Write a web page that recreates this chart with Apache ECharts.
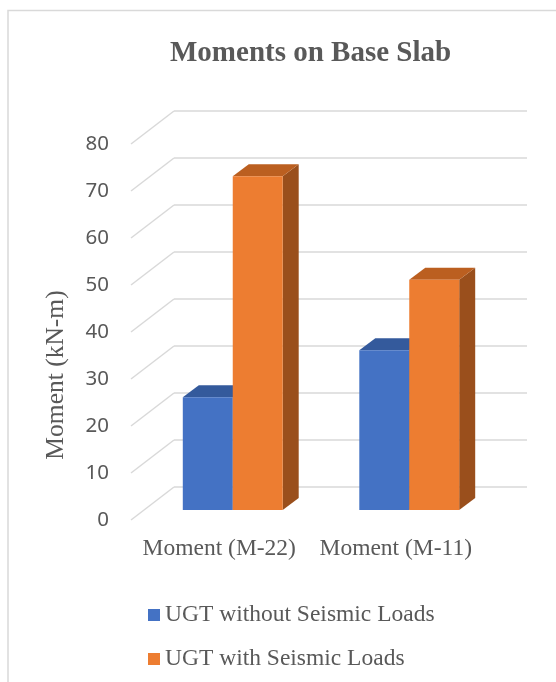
<!DOCTYPE html>
<html>
<head>
<meta charset="utf-8">
<script src="https://cdn.jsdelivr.net/npm/echarts@6/dist/echarts.min.js"></script>
<style>
html, body { margin: 0; padding: 0; background: #fff; }
#main { width: 556px; height: 682px; }
</style>
</head>
<body>
<div id="main"></div>
<script>
// data
var categories = ['Moment (M-22)', 'Moment (M-11)'];
var seriesNames = ['UGT without Seismic Loads', 'UGT with Seismic Loads'];
var withoutSeismic = [24, 34];
var withSeismic = [71, 49];
var yTicks = [0, 10, 20, 30, 40, 50, 60, 70, 80];

// 3d look
var wallDx = 43, wallDy = -33;   // front floor edge -> back wall
var barDx = 16, barDy = -12;     // bar depth
var barFrac = 0.283;             // bar width / category width

var faceColors = [
    { front: '#4472c4', top: '#345a9c', side: '#28477c' },
    { front: '#ed7d31', top: '#bb5f20', side: '#9a4f1c' }
];

function barRender(idx) {
    return function (params, api) {
        var c = api.value(0);
        var v = api.value(1);
        var base = api.coord([c, 0]);
        var top = api.coord([c, v]);
        var band = api.size([1, 0])[0];
        var w = band * barFrac;
        var x0 = idx === 0 ? base[0] - w : base[0];
        var x1 = x0 + w;
        var yb = base[1], yt = top[1];
        var col = faceColors[idx];
        return {
            type: 'group',
            children: [
                { type: 'polygon', shape: { points: [[x1, yb], [x1 + barDx, yb + barDy], [x1 + barDx, yt + barDy], [x1, yt]] },
                  style: { fill: col.side } },
                { type: 'polygon', shape: { points: [[x0, yt], [x0 + barDx, yt + barDy], [x1 + barDx, yt + barDy], [x1, yt]] },
                  style: { fill: col.top } },
                { type: 'rect', shape: { x: x0, y: yt, width: w, height: yb - yt },
                  style: { fill: col.front } }
            ]
        };
    };
}

var myChart = echarts.init(document.getElementById('main'));

var option = {
    backgroundColor: '#fff',
    animation: false,
    title: {
        text: 'Moments on Base Slab',
        left: 165,
        top: 34,
        textStyle: { fontFamily: 'Liberation Serif', fontWeight: 'bold', fontSize: 29, color: '#595959' }
    },
    legend: {
        orient: 'vertical',
        left: 143,
        top: 596,
        itemWidth: 12,
        itemHeight: 12,
        itemGap: 16,
        icon: 'rect',
        data: seriesNames,
        textStyle: { fontFamily: 'Liberation Serif', fontSize: 23.5, color: '#595959', lineHeight: 28 }
    },
    graphic: [
        { type: 'rect', shape: { x: 8, y: 10.5, width: 700, height: 800 },
          style: { fill: null, stroke: '#d9d9d9', lineWidth: 1.5 }, z: -1 },
        { type: 'text', x: 56, y: 375, rotation: Math.PI / 2,
          style: { text: 'Moment (kN-m)', font: '25.5px "Liberation Serif"', fill: '#595959',
                   align: 'center', verticalAlign: 'middle' } }
    ],
    grid: [
        // plane of the bar fronts
        { left: 144.5, right: 58.5, top: 134, bottom: 172 },
        // front edge of the floor, carries the labels
        { left: 131, right: 72, top: 144, bottom: 162 },
        // back wall
        { left: 174, right: 29, top: 111, bottom: 195 }
    ],
    xAxis: [
        { type: 'category', gridIndex: 0, data: categories, show: false },
        { type: 'category', gridIndex: 1, data: categories,
          axisLine: { show: false }, axisTick: { show: false },
          axisLabel: { interval: 0, margin: 17, fontFamily: 'Liberation Serif', fontSize: 23.5, color: '#595959' } },
        { type: 'category', gridIndex: 2, data: categories, show: false }
    ],
    yAxis: [
        { type: 'value', gridIndex: 0, min: 0, max: 80, interval: 10, show: false },
        { type: 'value', gridIndex: 1, min: 0, max: 80, interval: 10,
          axisLine: { show: false }, axisTick: { show: false }, splitLine: { show: false },
          axisLabel: { margin: 22, fontFamily: 'Noto Sans', fontSize: 20.5, color: '#595959' } },
        { type: 'value', gridIndex: 2, min: 0, max: 80, interval: 10,
          axisLine: { show: false }, axisTick: { show: false }, axisLabel: { show: false },
          splitLine: { show: true, lineStyle: { color: '#d9d9d9', width: 1.5 } } }
    ],
    series: [
        {
            // slanted side wall lines
            type: 'custom',
            xAxisIndex: 1, yAxisIndex: 1,
            silent: true,
            data: yTicks.map(function (t) { return [0, t]; }),
            renderItem: function (params, api) {
                var x = params.coordSys.x;
                var y = api.coord([0, api.value(1)])[1];
                return {
                    type: 'line',
                    shape: { x1: x, y1: y, x2: x + wallDx, y2: y + wallDy },
                    style: { stroke: '#d9d9d9', lineWidth: 1.5 }
                };
            },
            z: 1
        },
        {
            name: seriesNames[0],
            type: 'custom',
            xAxisIndex: 0, yAxisIndex: 0,
            itemStyle: { color: faceColors[0].front },
            data: withoutSeismic.map(function (v, i) { return [i, v]; }),
            renderItem: barRender(0),
            z: 3
        },
        {
            name: seriesNames[1],
            type: 'custom',
            xAxisIndex: 0, yAxisIndex: 0,
            itemStyle: { color: faceColors[1].front },
            data: withSeismic.map(function (v, i) { return [i, v]; }),
            renderItem: barRender(1),
            z: 4
        }
    ]
};

myChart.setOption(option);
</script>
</body>
</html>
